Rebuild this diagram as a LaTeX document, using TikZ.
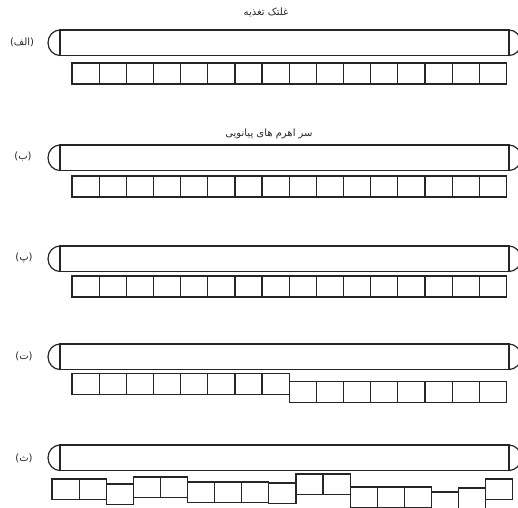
\documentclass[tikz,border=0pt]{standalone}
\usepackage{fontspec}
\setmainfont{DejaVu Sans}
\newfontfamily\arabicfont[Script=Arabic]{DejaVu Sans}
\TeXXeTstate=1

\tikzset{
  rodillo/.style={line width=1.2pt},
  tecla/.style={line width=1.2pt},
  rotulo/.style={inner sep=0pt, font=\fontsize{10}{12}\selectfont\arabicfont}
}

\begin{document}
\begin{tikzpicture}[x=1pt, y=-1pt, color=black!85]
  \clip (0,0) rectangle (518,507);

  % Rodillos
  \foreach \y in {30,145,246,344,445} {
    \draw[rodillo] (60,\y) rectangle (509,\y+25.5);
    \draw[rodillo] (60,\y) arc[start angle=-90, end angle=-270, x radius=12, y radius=12.75];
    \draw[rodillo] (509,\y) arc[start angle=-90, end angle=90, x radius=12, y radius=12.75];
  }

  % Textos
  \node[rotulo] (titulo1) at (266,12) {\beginR غلتک تغذیه\endR};
  \node[rotulo] (titulo2) at (269,134) {\beginR سر اهرم های پیانویی\endR};
  \node[rotulo] (etiq1) at (22,42.5) {(الف)};
  \node[rotulo] (etiq2) at (23,157) {(ب)};
  \node[rotulo] (etiq3) at (24,258) {(پ)};
  \node[rotulo] (etiq4) at (24,356.5) {(ت)};
  \node[rotulo] (etiq5) at (24,458) {(ث)};

  % Teclas
  \foreach \i in {0,...,15} {
    \draw[tecla] (72+27.15*\i,63) rectangle ++(27.15,21);
    \draw[tecla] (72+27.15*\i,176) rectangle ++(27.15,21);
    \draw[tecla] (72+27.15*\i,276) rectangle ++(27.15,21);
  }
  \foreach \i in {0,...,7}
    \draw[tecla] (72+27.15*\i,373.5) rectangle ++(27.15,21);
  \foreach \i in {8,...,15}
    \draw[tecla] (72+27.15*\i,381.5) rectangle ++(27.15,21);

  % Teclas desparejas
  \foreach \i/\t in {0/479, 1/479, 2/484, 3/477, 4/477, 5/482, 6/482, 7/482, 8/483,
                     9/474, 10/474, 11/487, 12/487, 13/487, 14/492, 15/488, 16/479} {
    \draw[tecla] (52+27.1*\i,\t) rectangle ++(27.1,20.5);
  }
\end{tikzpicture}
\end{document}
